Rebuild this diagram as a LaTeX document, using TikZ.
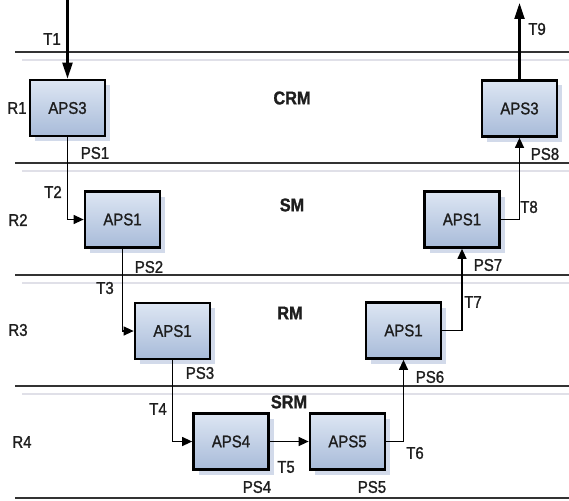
\documentclass[tikz,border=0pt]{standalone}
\usepackage{fontspec}
\setmainfont{Liberation Sans}[FakeStretch=0.88, FakeBold=1.2]
\usetikzlibrary{arrows.meta, shadows}

\definecolor{apstop}{HTML}{DDE6F3}
\definecolor{apsbot}{HTML}{A8BBD9}
\definecolor{apsshade}{HTML}{D2DAEA}
\definecolor{bandline}{HTML}{333333}
\definecolor{bandfaint}{HTML}{E0E0E8}
\definecolor{ink}{HTML}{1E1E1E}

\begin{document}
\begin{tikzpicture}[
  x=1pt, y=-1pt,
  aps/.style   = {draw=black, line width=2.7pt, minimum width=75pt,
                  minimum height=56pt, top color=apstop, bottom color=apsbot,
                  font=\fontsize{17}{19}\selectfont, text=ink,
                  drop shadow={shadow xshift=5pt, shadow yshift=-5pt,
                               fill=apsshade, opacity=1}},
  lbl/.style   = {font=\fontsize{17}{19}\selectfont, text=ink, inner sep=0pt},
  zone/.style  = {lbl, font=\fontsize{18.5}{20}\selectfont\bfseries},
  band/.style  = {draw=bandline, line width=2.2pt},
  faint/.style = {draw=bandfaint, line width=2pt},
  arr/.style   = {-{Triangle[length=10pt, width=9pt]}, line width=1.2pt},
  ext/.style   = {-{Triangle[length=16pt, width=10pt]}, line width=2.2pt},
]
\useasboundingbox (0,0) rectangle (569,500);

% ---- role bands -------------------------------------------------------------
\foreach \yy in {52,163,275,386} {
  \draw[faint] (22,\yy+8) -- (569,\yy+8);
}
\foreach \yy in {52,163,275,386,498} {
  \draw[band] (15,\yy) -- (569,\yy);
}

\node[zone] (crm) at (292,98)  {CRM};
\node[zone] (sm)  at (292,205) {SM};
\node[zone] (rm)  at (290,313) {RM};
\node[zone] (srm) at (289,402) {SRM};

\node[lbl] (r1) at (17,108) {R1};
\node[lbl] (r2) at (18,220) {R2};
\node[lbl] (r3) at (18,330) {R3};
\node[lbl] (r4) at (22,442) {R4};

% ---- process steps ----------------------------------------------------------
\node[aps] (apsA) at (67.5,108)  {APS3};
\node[aps] (apsB) at (122.5,219.5) {APS1};
\node[aps] (apsC) at (172.5,331) {APS1};
\node[aps] (apsD) at (231,441.5) {APS4};
\node[aps] (apsE) at (347.5,441.5) {APS5};
\node[aps] (apsF) at (403.5,330.5) {APS1};
\node[aps] (apsG) at (462,219.5) {APS1};
\node[aps] (apsH) at (519.5,108.5) {APS3};

\coordinate (in)  at (67.5,0);
\coordinate (out) at (519.5,3);

% ---- transitions ------------------------------------------------------------
\draw[ext] (in) -- (apsA.north);
\draw[arr] (apsA.south) |- (apsB.west);
\draw[arr] (apsB.south) |- (apsC.west);
\draw[arr] (apsC.south) |- (apsD.west);
\draw[arr] (apsD.east) -- (apsE.west);
\draw[arr] (apsE.east) -| (apsF.south);
\draw[arr] (apsF.east) -| (apsG.south);
\draw[arr] (apsG.east) -| (apsH.south);
\draw[ext] (apsH.north) -- (out);

\node[lbl] (t1) at (52,39)   {T1};
\node[lbl] (t2) at (53,192)  {T2};
\node[lbl] (t3) at (105,288) {T3};
\node[lbl] (t4) at (158,409) {T4};
\node[lbl] (t5) at (286,467) {T5};
\node[lbl] (t6) at (415,453) {T6};
\node[lbl] (t7) at (473,302) {T7};
\node[lbl] (t8) at (529,207) {T8};
\node[lbl] (t9) at (537,29)  {T9};

% ---- post states ------------------------------------------------------------
\node[lbl] (ps1) at (95,153)  {PS1};
\node[lbl] (ps2) at (149,267) {PS2};
\node[lbl] (ps3) at (200,373) {PS3};
\node[lbl] (ps4) at (257,487) {PS4};
\node[lbl] (ps5) at (372,487) {PS5};
\node[lbl] (ps6) at (430,377) {PS6};
\node[lbl] (ps7) at (488,265) {PS7};
\node[lbl] (ps8) at (545,154) {PS8};

\end{tikzpicture}
\end{document}
